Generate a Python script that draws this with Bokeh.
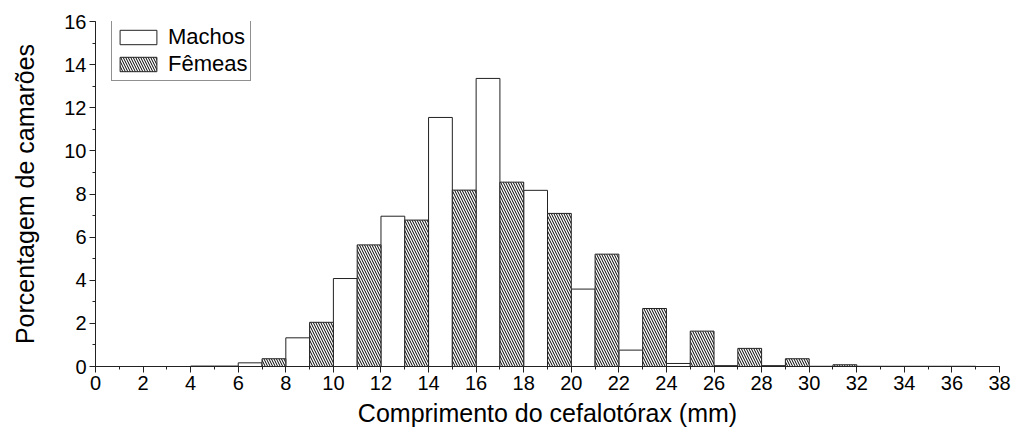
from bokeh.plotting import figure
from bokeh.models import Range1d, Legend, LegendItem, SingleIntervalTicker
from bokeh.embed import file_html
from bokeh.resources import INLINE

# Length-class percentages (1 mm classes); males start on even mm, females on odd mm
machos_left = [0, 2, 4, 6, 8, 10, 12, 14, 16, 18, 20, 22, 24, 26, 28, 30, 32, 34, 36]
machos_pct = [0.0, 0.0, 0.02, 0.17, 1.33, 4.08, 6.97, 11.55, 13.36, 8.17, 3.59,
              0.76, 0.14, 0.04, 0.04, 0.01, 0.01, 0.01, 0.01]
femeas_left = [1, 3, 5, 7, 9, 11, 13, 15, 17, 19, 21, 23, 25, 27, 29, 31, 33, 35, 37]
femeas_pct = [0.0, 0.0, 0.02, 0.36, 2.05, 5.64, 6.79, 8.18, 8.55, 7.10, 5.21,
              2.69, 1.64, 0.84, 0.36, 0.08, 0.01, 0.01, 0.0]

x_label = "Comprimento do cefalotórax (mm)"
y_label = "Porcentagem de camarões"

FONT = "Liberation Sans"
EDGE = "#222222"

p = figure(width=1014, height=430, output_backend="svg", toolbar_location=None,
           x_range=Range1d(0, 38), y_range=Range1d(0, 16),
           min_border_left=95, min_border_right=15,
           min_border_top=21, min_border_bottom=64)
p.outline_line_color = None
p.xgrid.visible = False
p.ygrid.visible = False
p.background_fill_color = "white"
p.border_fill_color = "white"

bar_w = 1.0
m = p.vbar(x=[v + bar_w / 2 for v in machos_left], top=machos_pct, bottom=0,
           width=bar_w, fill_color="white", line_color=EDGE, line_width=1)
f = p.vbar(x=[v + bar_w / 2 for v in femeas_left], top=femeas_pct, bottom=0,
           width=bar_w, fill_color="white", line_color=EDGE, line_width=1,
           hatch_pattern="\\", hatch_color="black", hatch_scale=5,
           hatch_weight=1)

for ax in (p.xaxis[0], p.yaxis[0]):
    ax.ticker = SingleIntervalTicker(interval=2, num_minor_ticks=2)
    ax.major_label_text_font = FONT
    ax.major_label_text_font_size = "20px"
    ax.major_label_text_color = "black"
    ax.axis_label_text_font = FONT
    ax.axis_label_text_font_size = "25px"
    ax.axis_label_text_font_style = "normal"
    ax.axis_label_text_color = "black"
    ax.axis_line_color = EDGE
    ax.major_tick_line_color = EDGE
    ax.minor_tick_line_color = EDGE
    ax.major_tick_in = 0
    ax.major_tick_out = 6
    ax.minor_tick_in = 0
    ax.minor_tick_out = 3
    ax.major_label_standoff = 3

p.xaxis.axis_label = x_label
p.yaxis.axis_label = y_label
p.xaxis.axis_label_standoff = 6
p.yaxis.axis_label_standoff = 22

legend = Legend(items=[LegendItem(label="Machos", renderers=[m]),
                       LegendItem(label="Fêmeas", renderers=[f])],
                location=(16, 285))
legend.label_text_font = FONT
legend.label_text_font_size = "22px"
legend.label_text_color = "black"
legend.glyph_width = 46
legend.glyph_height = 18
legend.label_height = 18
legend.label_standoff = 7
legend.spacing = 1
legend.padding = 3
legend.margin = 0
legend.border_line_color = EDGE
legend.border_line_width = 1
p.add_layout(legend)

open("out.html", "w").write(file_html(p, INLINE))
